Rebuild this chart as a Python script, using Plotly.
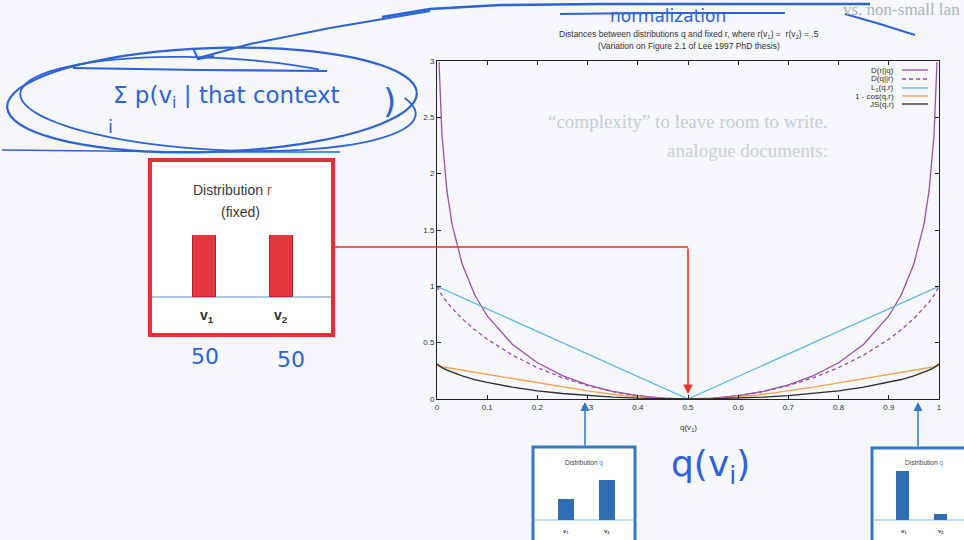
import math
import plotly.graph_objects as go

W, H = 964, 540
def X(px): return px / W
def Y(py): return 1 - py / H

# ---------------- data ----------------
q = [0, 0.004, 0.01, 0.02, 0.03, 0.05, 0.075, 0.1, 0.15, 0.2, 0.25, 0.3, 0.35, 0.4, 0.45, 0.5,
     0.55, 0.6, 0.65, 0.7, 0.75, 0.8, 0.85, 0.9, 0.925, 0.95, 0.97, 0.98, 0.99, 0.996, 1.0]
d_rq = [None, 2.99, 2.33, 1.84, 1.55, 1.20, 0.925, 0.737, 0.486, 0.322, 0.208, 0.126, 0.068, 0.029, 0.007, 0.0,
        0.007, 0.029, 0.068, 0.126, 0.208, 0.322, 0.486, 0.737, 0.925, 1.20, 1.55, 1.84, 2.33, 2.99, None]
d_qr = [1.0, 0.962, 0.919, 0.859, 0.806, 0.714, 0.616, 0.531, 0.390, 0.278, 0.189, 0.119, 0.066, 0.029, 0.007, 0.0,
        0.007, 0.029, 0.066, 0.119, 0.189, 0.278, 0.390, 0.531, 0.616, 0.714, 0.806, 0.859, 0.919, 0.962, 1.0]
l1 = [1.0, 0.992, 0.98, 0.96, 0.94, 0.90, 0.85, 0.80, 0.70, 0.60, 0.50, 0.40, 0.30, 0.20, 0.10, 0.0,
      0.10, 0.20, 0.30, 0.40, 0.50, 0.60, 0.70, 0.80, 0.85, 0.90, 0.94, 0.96, 0.98, 0.992, 1.0]
one_minus_cos = [0.293, 0.290, 0.286, 0.279, 0.271, 0.257, 0.238, 0.219, 0.181, 0.143, 0.106, 0.072, 0.042, 0.019, 0.005, 0.0,
                 0.005, 0.019, 0.042, 0.072, 0.106, 0.143, 0.181, 0.219, 0.238, 0.257, 0.271, 0.279, 0.286, 0.290, 0.293]
js = [0.311, 0.296, 0.279, 0.256, 0.237, 0.205, 0.173, 0.147, 0.105, 0.073, 0.049, 0.030, 0.017, 0.007, 0.002, 0.0,
      0.002, 0.007, 0.017, 0.030, 0.049, 0.073, 0.105, 0.147, 0.173, 0.205, 0.237, 0.256, 0.279, 0.296, 0.311]

series_names = ["D(r||q)", "D(q||r)", "L<sub>1</sub>(q,r)", "1 - cos(q,r)", "JS(q,r)"]
x_ticks = [0, 0.1, 0.2, 0.3, 0.4, 0.5, 0.6, 0.7, 0.8, 0.9, 1]
x_ticklabels = ["0", "0.1", "0.2", "0.3", "0.4", "0.5", "0.6", "0.7", "0.8", "0.9", "1"]
y_ticks = [0, 0.5, 1, 1.5, 2, 2.5, 3]
y_ticklabels = ["0", "0.5", "1", "1.5", "2", "2.5", "3"]

# inset distributions
v_labels = ["v<sub>1</sub>", "v<sub>2</sub>"]
r_vals = [0.5, 0.5]
q_a_vals = [0.34, 0.66]
q_b_vals = [0.89, 0.11]

# ---------------- styles ----------------
C_PURPLE = "#9d4fa8"
C_BLUE = "#5cb6e4"
C_ORANGE = "#f2a24a"
C_BLACK = "#2b2b2b"
C_INK = "#2f62d4"
C_RED = "#dc3238"
C_BOX = "#3479c2"
FONT = "Liberation Sans"
HAND = "DejaVu Sans"

colors = [C_PURPLE, C_PURPLE, C_BLUE, C_ORANGE, C_BLACK]
dashes = ["solid", "4px,3px", "solid", "solid", "solid"]
values = [d_rq, d_qr, l1, one_minus_cos, js]

fig = go.Figure()

# ---------------- boxes (below traces) ----------------
shapes = []
def rect(x0, y0, x1, y1, color, width, fill="#ffffff", layer="below"):
    shapes.append(dict(type="rect", xref="paper", yref="paper", x0=X(x0), x1=X(x1), y0=Y(y1), y1=Y(y0),
                       line=dict(color=color, width=width), fillcolor=fill, layer=layer))
def seg(x0, y0, x1, y1, color, width, dash="solid", layer="above"):
    shapes.append(dict(type="line", xref="paper", yref="paper", x0=X(x0), x1=X(x1), y0=Y(y0), y1=Y(y1),
                       line=dict(color=color, width=width, dash=dash), layer=layer))
def path(pts, color, width, closed=False):
    d = "M " + " L ".join(f"{X(a):.5f},{Y(b):.5f}" for a, b in pts)
    if closed:
        d += " Z"
    shapes.append(dict(type="path", xref="paper", yref="paper", path=d,
                       line=dict(color=color, width=width), layer="above"))
def ellipse(cx, cy, rx, ry, rot, color, width, a0=0, a1=360):
    pts = []
    r = math.radians(rot)
    for k in range(73):
        t = math.radians(a0 + (a1 - a0) * k / 72)
        ex, ey = rx * math.cos(t), ry * math.sin(t)
        pts.append((cx + ex * math.cos(r) - ey * math.sin(r), cy + ex * math.sin(r) + ey * math.cos(r)))
    path(pts, color, width)

rect(150, 160, 333, 335, C_RED, 4)
rect(533, 447, 635, 548, C_BOX, 3)
rect(872, 448, 972, 548, C_BOX, 3)
seg(152, 297, 331, 297, "#8db3da", 1.5, layer="below")
seg(535, 520, 633, 520, "#8db3da", 1.2, layer="below")
seg(874, 520, 964, 520, "#8db3da", 1.2, layer="below")

# ---------------- main curves ----------------
for name, ys, col, dash in zip(series_names, values, colors, dashes):
    fig.add_trace(go.Scatter(x=q, y=ys, mode="lines", name=name, showlegend=False,
                             line=dict(color=col, width=1.3, dash=dash), xaxis="x", yaxis="y"))

# ---------------- inset bars ----------------
fig.add_trace(go.Bar(x=[1, 2], y=r_vals, width=0.31, xaxis="x2", yaxis="y2", showlegend=False,
                     marker=dict(color="#e2383d", line=dict(color="#b3262c", width=1))))
fig.add_trace(go.Bar(x=[1, 2], y=q_a_vals, width=0.39, xaxis="x3", yaxis="y3", showlegend=False,
                     marker=dict(color="#2f6db5", line=dict(width=0))))
fig.add_trace(go.Bar(x=[1, 2], y=q_b_vals, width=0.35, xaxis="x4", yaxis="y4", showlegend=False,
                     marker=dict(color="#2f6db5", line=dict(width=0))))

# ---------------- annotations ----------------
ann = []
def txt(x, y, s, size, color="#333333", family=FONT, xanchor="center", yanchor="middle"):
    ann.append(dict(x=X(x), y=Y(y), xref="paper", yref="paper", text=s, showarrow=False,
                    font=dict(size=size, color=color, family=family), xanchor=xanchor, yanchor=yanchor))
def arrow(xh, yh, xt, yt, color, width, head=2, size=1):
    ann.append(dict(x=X(xh), y=Y(yh), ax=xt - xh, ay=yt - yh, xref="paper", yref="paper",
                    axref="pixel", ayref="pixel",
                    text="", showarrow=True, arrowhead=head, arrowsize=size, arrowwidth=width, arrowcolor=color))

# faint slide text behind
txt(962, 9, "vs. non-small lan", 17, "#aeb3ba", "Liberation Serif", xanchor="right")
txt(830, 122, "\u201ccomplexity\u201d to leave room to write.", 19, "#c9cdd3", "Liberation Serif", xanchor="right")
txt(830, 150, "analogue documents:", 19, "#cdd1d6", "Liberation Serif", xanchor="right")

# chart titles
txt(689, 35, "Distances between distributions q and fixed r, where r(v<sub>1</sub>) =  r(v<sub>2</sub>) = .5", 8.5)
txt(689, 46, "(Variation on Figure 2.1 of Lee 1997 PhD thesis)", 8.5)
txt(688, 428, "q(v<sub>1</sub>)", 8)

# legend
leg_y = [70, 79, 88, 96, 104]
for name, col, dash, yy in zip(series_names, colors, dashes, leg_y):
    txt(896, yy, name, 8, xanchor="right")
    seg(902, yy, 928, yy, col, 1.3, dash=dash)

# distribution r box text
txt(232, 190, "Distribution <span style='color:#e03a3e'>r</span>", 14, "#3a3a3a")
txt(240, 212, "(fixed)", 14, "#3a3a3a")
txt(207, 316, "<b>v<sub>1</sub></b>", 14, "#333333")
txt(281, 316, "<b>v<sub>2</sub></b>", 14, "#333333")

# inset q boxes text
txt(584, 463, "Distribution <span style='color:#4a90d9'>q</span>", 6.5, "#444444")
txt(924, 463, "Distribution <span style='color:#4a90d9'>q</span>", 6.5, "#444444")
txt(566, 531, "<b>v<sub>1</sub></b>", 6, "#444444")
txt(607, 531, "<b>v<sub>2</sub></b>", 6, "#444444")
txt(904, 531, "<b>v<sub>1</sub></b>", 6, "#444444")
txt(941, 531, "<b>v<sub>2</sub></b>", 6, "#444444")

# red connector from r box to q = 0.5
seg(333, 247, 688, 247, "#e8302c", 1.6)
arrow(688, 394, 688, 247, "#e8302c", 1.6, head=2, size=1.2)

# blue arrows from inset boxes
arrow(585, 402, 585, 447, C_BOX, 1.5, head=2, size=1.2)
arrow(918, 402, 918, 448, C_BOX, 1.5, head=2, size=1.2)

# handwriting
txt(226, 97, "\u03a3 p(v<sub>i</sub> | that context", 23, C_INK, HAND)
txt(110, 126, "i", 18, C_INK, HAND)
txt(389, 101, ")", 34, C_INK, HAND)
txt(205, 356, "50", 22, C_INK, HAND)
txt(291, 359, "50", 22, C_INK, HAND)
txt(710, 466, "q(v<sub>i</sub>)", 36, C_INK, HAND)
txt(668, 16, "normalization", 17, C_INK, HAND)

ellipse(212, 100, 205, 52, -2, C_INK, 2.2)
ellipse(218, 104, 198, 46, 3, C_INK, 1.8, a0=-20, a1=300)
path([(73, 68), (200, 70), (327, 71)], C_INK, 2.2)
path([(430, 11), (330, 28), (250, 44), (198, 58)], C_INK, 2)
path([(193, 48), (198, 59), (214, 56)], C_INK, 2)
path([(382, 17), (430, 9), (500, 5), (600, 4), (870, 4)], C_INK, 2.5)
path([(560, 14), (650, 13), (785, 13)], C_INK, 2.2)
path([(845, 14), (880, 24), (915, 35)], C_INK, 2)
path([(2, 150), (100, 151), (200, 152), (340, 152)], C_INK, 1.6)

# ---------------- layout ----------------
axis_common = dict(showgrid=False, zeroline=False, showline=True, linecolor="#222222", linewidth=1,
                   mirror="ticks", ticks="inside", ticklen=4, tickcolor="#222222",
                   tickfont=dict(size=8, color="#333333", family=FONT))
hidden = dict(visible=False, showgrid=False, zeroline=False, fixedrange=True)

fig.update_layout(
    width=W, height=H, margin=dict(l=0, r=0, t=0, b=0, autoexpand=False),
    paper_bgcolor="#f5f7fa", plot_bgcolor="rgba(255,255,255,0)",
    showlegend=False, bargap=0,
    xaxis=dict(domain=[X(437), X(939)], range=[0, 1], anchor="y",
               tickvals=x_ticks, ticktext=x_ticklabels, **axis_common),
    yaxis=dict(domain=[Y(399), Y(61)], range=[0, 3], anchor="x",
               tickvals=y_ticks, ticktext=y_ticklabels, **axis_common),
    xaxis2=dict(domain=[X(166), X(320)], range=[0.5, 2.5], anchor="y2", **hidden),
    yaxis2=dict(domain=[Y(297), Y(235)], range=[0, 0.5], anchor="x2", **hidden),
    xaxis3=dict(domain=[X(544.5), X(626.5)], range=[0.5, 2.5], anchor="y3", **hidden),
    yaxis3=dict(domain=[Y(520), Y(459)], range=[0, 1], anchor="x3", **hidden),
    xaxis4=dict(domain=[X(884.25), X(959.25)], range=[0.5, 2.5], anchor="y4", **hidden),
    yaxis4=dict(domain=[Y(520), Y(465)], range=[0, 1], anchor="x4", **hidden),
    shapes=shapes, annotations=ann,
)

fig.write_html("out.html", config={"displayModeBar": False},
               post_script="document.body.style.margin='0';document.body.style.overflow='hidden';")
